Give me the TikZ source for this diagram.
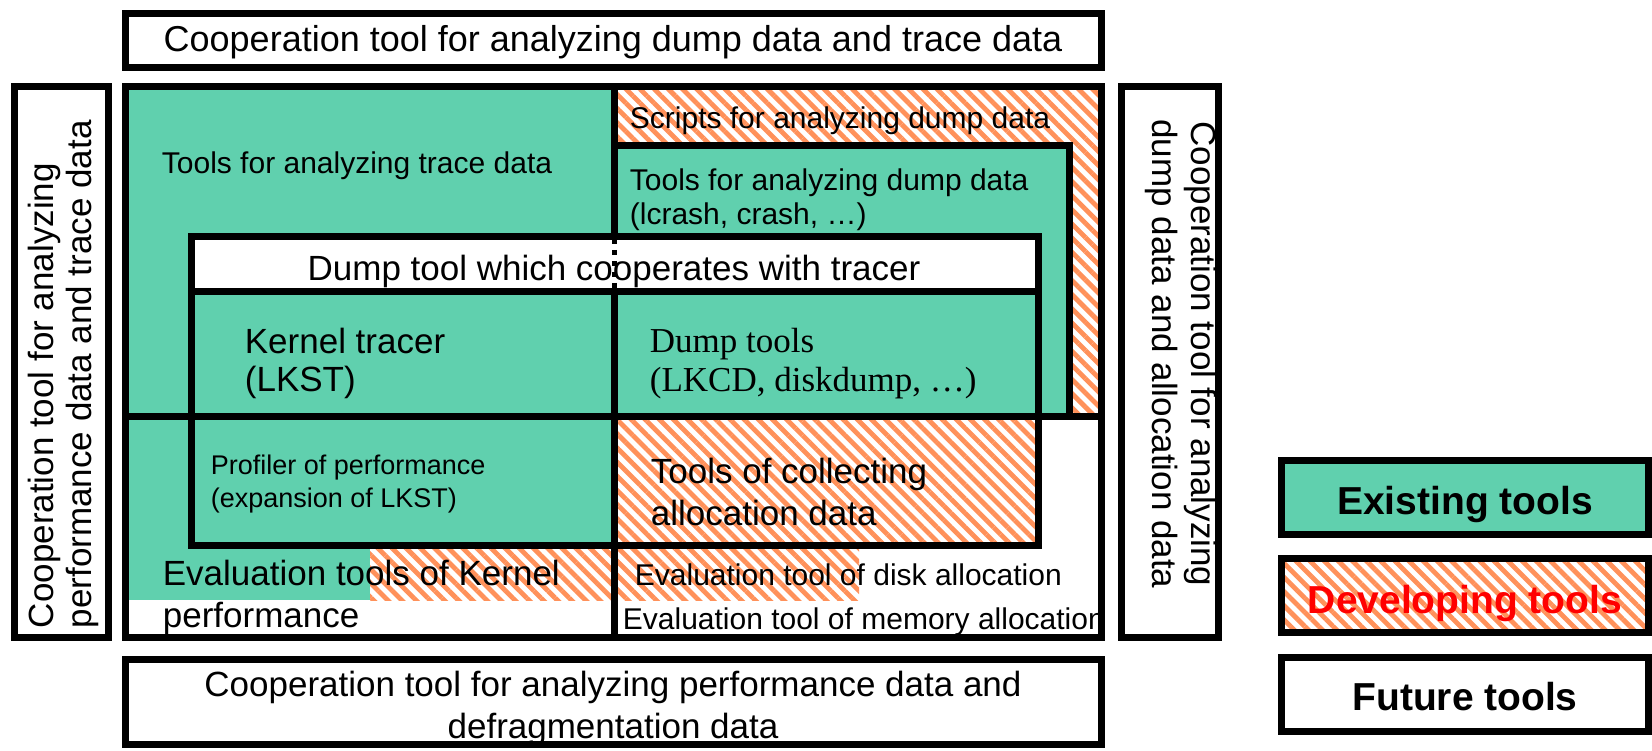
\documentclass[tikz,border=0pt]{standalone}
\usepackage{fontspec}
\setmainfont{Liberation Sans}
\newfontfamily\timesface{Liberation Serif}
\usetikzlibrary{patterns.meta}
\definecolor{existgreen}{RGB}{96,208,174}
\definecolor{devorange}{RGB}{255,145,90}
\definecolor{devred}{RGB}{255,0,0}
\tikzset{
  frame/.style={line width=3.5pt},
  existing/.style={fill=existgreen},
  developing/.style={preaction={fill=white}, pattern={Lines[angle=-45,distance=5pt,line width=2.4pt]}, pattern color=devorange},
  txtL/.style={font=\fontsize{17.5}{20}\selectfont},
  txtM/.style={font=\fontsize{15}{17}\selectfont},
  txtS/.style={font=\fontsize{13.5}{16.5}\selectfont},
  legendtxt/.style={font=\bfseries\fontsize{19.5}{22}\selectfont},
}
\begin{document}
\begin{tikzpicture}[x=0.5pt, y=0.5pt, yscale=1, xscale=1]
\useasboundingbox (0,0) rectangle (1652,750);
\fill[white] (0,0) rectangle (1652,750);
%Fills
\fill[existing] (125,663) rectangle (614,333);
\fill[developing] (614,663) rectangle (1101,333);
\fill[existing] (614,604) rectangle (1069,333);
\fill[white] (191,513) rectangle (1038,458);
\fill[existing] (125,333) rectangle (370,150);
\fill[existing] (191,333) rectangle (614,205);
\fill[developing] (614,333) rectangle (1038,205);
\fill[developing] (370,205) rectangle (859,150);
%Text
\draw (613,708) node (dumptrace) [inner sep=0.75pt][font=\fontsize{18}{21}\selectfont] {Cooperation tool for analyzing dump data and trace data};
\draw (63,120) node (perftrace) [anchor=west, rotate=90][inner sep=0.75pt][align=left][font=\fontsize{17.5}{19}\selectfont] {Cooperation tool for analyzing\\performance data and trace data};
\draw (1181,396) node (dumpalloc) [rotate=-90][inner sep=0.75pt][align=center][font=\fontsize{17.5}{19.5}\selectfont] {Cooperation tool for analyzing\\dump data and allocation data};
\draw (613,42) node (perfdefrag) [inner sep=0.75pt][align=center][font=\fontsize{17.5}{21}\selectfont] {Cooperation tool for analyzing performance data and\\defragmentation data};
\draw (160,584) node (tracetools) [anchor=west][inner sep=0.75pt][align=left][txtM] {Tools for analyzing trace data};
\draw (628,629) node (scripts) [anchor=west][inner sep=0.75pt][align=left][txtM] {Scripts for analyzing dump data};
\draw (628,550) node (dumpanalysis) [anchor=west][inner sep=0.75pt][align=left][txtM] {Tools for analyzing dump data\\(lcrash, crash, …)};
\draw (614,479) node (coopdump) [inner sep=0.75pt][txtL] {Dump tool which cooperates with tracer};
\draw (243,387) node (tracer) [anchor=west][inner sep=0.75pt][align=left][font=\fontsize{17.5}{19}\selectfont] {Kernel tracer\\(LKST)};
\draw (648,386) node (dumptools) [anchor=west][inner sep=0.75pt][align=left][font=\timesface\fontsize{17.5}{19.5}\selectfont] {Dump tools\\(LKCD, diskdump, …)};
\draw (209,266) node (profiler) [anchor=west][inner sep=0.75pt][align=left][txtS] {Profiler of performance\\(expansion of LKST)};
\draw (649,258) node (collect) [anchor=west][inner sep=0.75pt][align=left][font=\fontsize{17.5}{21}\selectfont] {Tools of collecting\\allocation data};
\draw (161,153) node (evalkernel) [anchor=west][inner sep=0.75pt][align=left][font=\fontsize{17.5}{21}\selectfont] {Evaluation tools of Kernel\\performance};
\draw (633,175) node (evaldisk) [anchor=west][inner sep=0.75pt][txtM] {Evaluation tool of disk allocation};
\begin{scope}
\clip (125,113) rectangle (1101,663);
\draw (621,128) node (evalmem) [anchor=west][inner sep=0.75pt][txtM] {Evaluation tool of memory allocation};
\end{scope}
%Lines
\draw[frame] (125,663) rectangle (1101,113);
\draw[frame] (614,663) -- (614,513);
\draw[line width=2.5pt, dash pattern=on 2.5pt off 3pt] (614,511) -- (614,460);
\draw[frame] (614,458) -- (614,113);
\draw[frame] (125,333) -- (1101,333);
\draw[frame] (614,604) -- (1069,604) -- (1069,333);
\draw[frame] (191,513) rectangle (1038,205);
\draw[frame] (191,458) -- (1038,458);
\draw[frame] (125,736) rectangle (1101,682);
\draw[frame] (14,663) rectangle (108,113);
\draw[frame] (1121,663) rectangle (1218,113);
\draw[frame] (125,91) rectangle (1101,6);
%Legend
\draw[frame, existing] (1281,290) rectangle (1648,216);
\draw[frame, developing] (1281,192) rectangle (1648,118);
\draw[frame] (1281,93) rectangle (1648,19);
\draw (1465,245) node (existlbl) [inner sep=0.75pt][legendtxt] {Existing tools};
\draw (1465,147) node (devlbl) [inner sep=0.75pt][legendtxt, text=devred] {Developing tools};
\draw (1465,53) node (futurelbl) [inner sep=0.75pt][legendtxt] {Future tools};
\end{tikzpicture}
\end{document}
